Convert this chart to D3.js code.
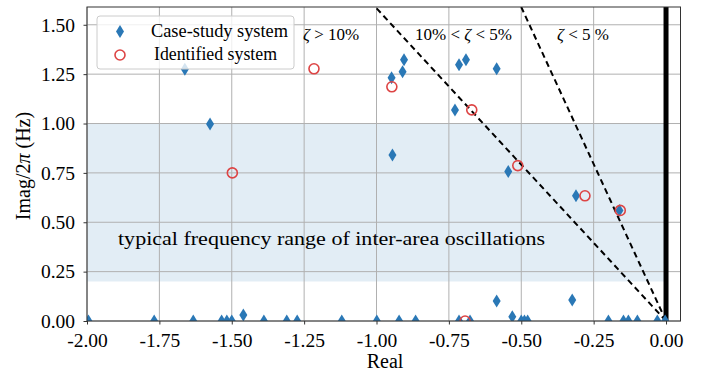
<!DOCTYPE html>
<html>
<head>
<meta charset="utf-8">
<style>
  body { margin: 0; background: #fff; }
  text { font-family: "Liberation Serif", "DejaVu Serif", serif; fill: #000; }
</style>
</head>
<body>
<script src="https://cdn.jsdelivr.net/npm/d3@7/dist/d3.min.js"></script>
<script>
  // eigenvalues of the case-study system (real part, imag/2pi in Hz)
  var caseReal = [-1.662, -1.575, -0.945, -0.948, -0.905, -0.910, -0.715, -0.691, -0.585, -0.729,
                  -0.545, -0.311, -0.161, -1.460, -0.585, -0.531, -0.324,
                  -1.995, -1.768, -1.633, -1.535, -1.517, -1.500, -1.389, -1.310, -1.274, -1.120,
                  -0.999, -0.922, -0.865, -0.715, -0.677, -0.500, -0.489, -0.478, -0.199, -0.147,
                  -0.130, -0.099, -0.030, -0.003];
  var caseImag = [1.275, 0.997, 0.841, 1.232, 1.323, 1.262, 1.298, 1.323, 1.277, 1.069,
                  0.757, 0.634, 0.559, 0.030, 0.101, 0.022, 0.106,
                  0, 0, 0, 0, 0, 0, 0, 0, 0, 0,
                  0, 0, 0, 0, 0, 0, 0, 0, 0, 0,
                  0, 0, 0, 0];

  // eigenvalues of the identified system
  var idReal = [-1.498, -1.216, -0.947, -0.671, -0.512, -0.280, -0.158, -0.694];
  var idImag = [0.750, 1.277, 1.186, 1.069, 0.787, 0.634, 0.560, 0.000];

  // damping ratio boundaries
  var dampingRatios = [0.10, 0.05];
  var bandRange = [0.2, 1.0];

  var xTicks = [-2.0, -1.75, -1.5, -1.25, -1.0, -0.75, -0.5, -0.25, 0.0];
  var xTickLabels = ["-2.00", "-1.75", "-1.50", "-1.25", "-1.00", "-0.75", "-0.50", "-0.25", "0.00"];
  var yTicks = [0, 0.25, 0.5, 0.75, 1.0, 1.25, 1.5];
  var yTickLabels = ["0.00", "0.25", "0.50", "0.75", "1.00", "1.25", "1.50"];

  var margin = {top: 7, right: 23.5, bottom: 56, left: 87};
  var width = 704 - margin.left - margin.right;
  var height = 377 - margin.top - margin.bottom;

  var xScale = d3.scaleLinear().domain([-2, 0.05]).range([0, width]);
  var yScale = d3.scaleLinear().domain([0, 1.59]).range([height, 0]);

  var svg = d3.select("body").append("svg")
      .attr("width", 704)
      .attr("height", 377);
  var g = svg.append("g")
      .attr("transform", "translate(" + margin.left + "," + margin.top + ")");

  svg.append("defs").append("clipPath").attr("id", "clip")
    .append("rect").attr("width", width).attr("height", height);

  // shaded band
  g.append("rect")
    .attr("x", xScale(-2))
    .attr("width", xScale(0) - xScale(-2))
    .attr("y", yScale(bandRange[1]))
    .attr("height", yScale(bandRange[0]) - yScale(bandRange[1]))
    .attr("fill", "#1f77b4")
    .attr("fill-opacity", 0.13);

  // grid
  g.append("g").selectAll("line").data(xTicks).enter().append("line")
    .attr("x1", function(d) { return xScale(d); })
    .attr("x2", function(d) { return xScale(d); })
    .attr("y1", 0).attr("y2", height)
    .attr("stroke", "#b0b0b0").attr("stroke-width", 1);
  g.append("g").selectAll("line").data(yTicks).enter().append("line")
    .attr("y1", function(d) { return yScale(d); })
    .attr("y2", function(d) { return yScale(d); })
    .attr("x1", 0).attr("x2", width)
    .attr("stroke", "#b0b0b0").attr("stroke-width", 1);

  // axes
  var xAxis = d3.axisBottom(xScale).tickValues(xTicks)
      .tickFormat(function(d, i) { return xTickLabels[i]; })
      .tickSize(3.5).tickPadding(8.5);
  var yAxis = d3.axisLeft(yScale).tickValues(yTicks)
      .tickFormat(function(d, i) { return yTickLabels[i]; })
      .tickSize(3.5).tickPadding(8.5);

  var gx = g.append("g").attr("transform", "translate(0," + height + ")").call(xAxis);
  var gy = g.append("g").call(yAxis);
  [gx, gy].forEach(function(a) {
    a.select(".domain").remove();
    a.selectAll("line").attr("stroke", "#333");
    a.selectAll("text").attr("font-size", "19.5px")
      .attr("font-family", "'Liberation Serif', serif").attr("fill", "#000");
  });

  var plot = g.append("g").attr("clip-path", "url(#clip)");

  // damping ratio lines
  var lineTop = 1.59;
  dampingRatios.forEach(function(z) {
    var slope = Math.sqrt(1 - z * z) / (z * 2 * Math.PI);
    plot.append("line")
      .attr("x1", xScale(0)).attr("y1", yScale(0))
      .attr("x2", xScale(-lineTop / slope)).attr("y2", yScale(lineTop))
      .attr("stroke", "#000").attr("stroke-width", 2)
      .attr("stroke-dasharray", "6,4");
  });

  // imaginary axis
  plot.append("line")
    .attr("x1", xScale(0)).attr("x2", xScale(0))
    .attr("y1", 0).attr("y2", height)
    .attr("stroke", "#000").attr("stroke-width", 5);

  var diamond = "M0,-6.5L4,0L0,6.5L-4,0Z";
  var caseData = caseReal.map(function(d, i) { return {re: d, im: caseImag[i]}; });
  var idData = idReal.map(function(d, i) { return {re: d, im: idImag[i]}; });

  plot.append("g").selectAll("path").data(caseData).enter().append("path")
    .attr("d", diamond)
    .attr("transform", function(d) { return "translate(" + xScale(d.re) + "," + yScale(d.im) + ")"; })
    .attr("fill", "#2a78b6");

  plot.append("g").selectAll("circle").data(idData).enter().append("circle")
    .attr("cx", function(d) { return xScale(d.re); })
    .attr("cy", function(d) { return yScale(d.im); })
    .attr("r", 5)
    .attr("fill", "none")
    .attr("stroke", "#dd4444")
    .attr("stroke-width", 1.6);

  // spines
  g.append("rect")
    .attr("width", width).attr("height", height)
    .attr("fill", "none").attr("stroke", "#333").attr("stroke-width", 1);

  // annotations
  function zetaText(x, y, before, after) {
    var t = g.append("text").attr("x", x).attr("y", y).attr("font-size", "17px");
    if (before) t.append("tspan").text(before);
    t.append("tspan").attr("font-style", "italic").text("ζ");
    t.append("tspan").text(after);
    return t;
  }
  zetaText(303 - margin.left, 40 - margin.top, "", " > 10%");
  zetaText(415 - margin.left, 40 - margin.top, "10% < ", "").append("tspan").text(" < 5%");
  zetaText(557 - margin.left, 40 - margin.top, "", " < 5 %");

  g.append("text")
    .attr("x", 118 - margin.left).attr("y", 245 - margin.top)
    .attr("font-size", "19px")
    .attr("textLength", 427).attr("lengthAdjust", "spacingAndGlyphs")
    .text("typical frequency range of inter-area oscillations");

  // axis labels
  svg.append("text")
    .attr("x", 385).attr("y", 368)
    .attr("text-anchor", "middle").attr("font-size", "20px")
    .text("Real");
  var yl = svg.append("text")
    .attr("transform", "translate(30,166) rotate(-90)")
    .attr("text-anchor", "middle").attr("font-size", "20px");
  yl.append("tspan").text("Imag/2");
  yl.append("tspan").attr("font-style", "italic").text("π");
  yl.append("tspan").text(" (Hz)");

  // legend
  var legend = svg.append("g");
  legend.append("rect")
    .attr("x", 97).attr("y", 16).attr("width", 197).attr("height", 53).attr("rx", 3)
    .attr("fill", "#fff").attr("fill-opacity", 0.8)
    .attr("stroke", "#cccccc").attr("stroke-width", 1);
  legend.append("path").attr("d", diamond)
    .attr("transform", "translate(120,31.5)").attr("fill", "#2a78b6");
  legend.append("circle").attr("cx", 120).attr("cy", 55).attr("r", 5)
    .attr("fill", "none").attr("stroke", "#dd4444").attr("stroke-width", 1.6);
  legend.append("text").attr("x", 151).attr("y", 37).attr("font-size", "18px")
    .attr("textLength", 137).attr("lengthAdjust", "spacingAndGlyphs")
    .text("Case-study system");
  legend.append("text").attr("x", 154).attr("y", 60).attr("font-size", "18px")
    .attr("textLength", 123).attr("lengthAdjust", "spacingAndGlyphs")
    .text("Identified system");
</script>
</body>
</html>
